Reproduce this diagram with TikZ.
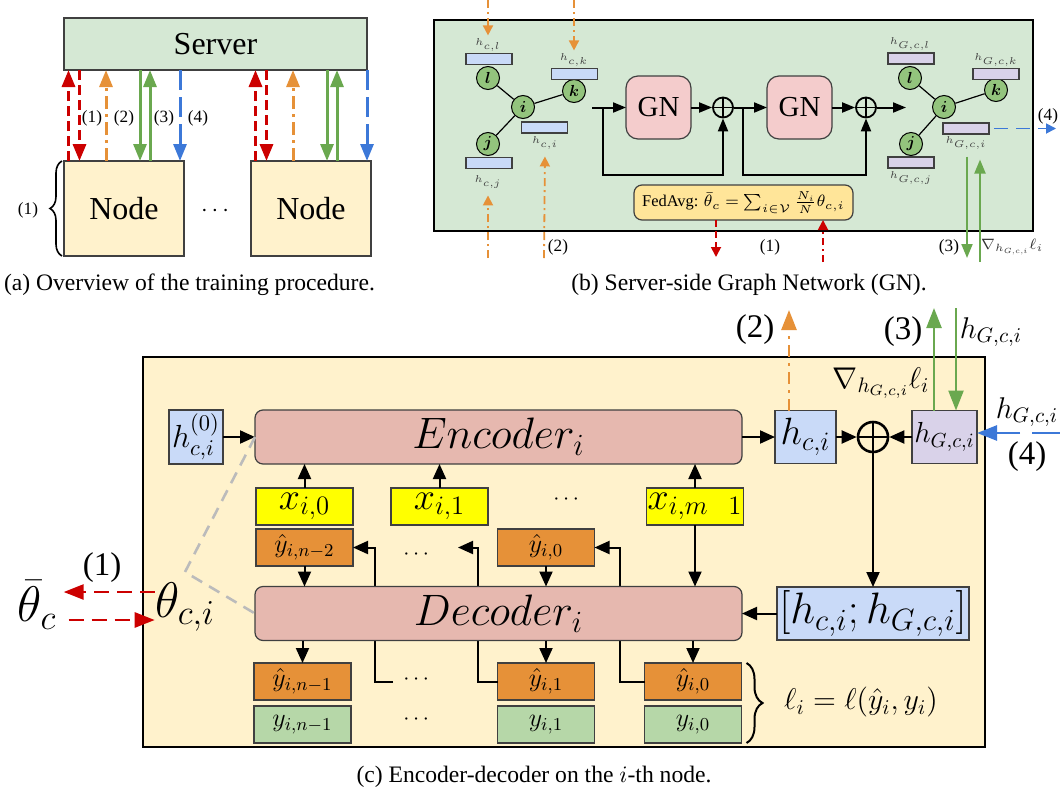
\RequirePackage{fix-cm}
\documentclass[tikz,border=0pt]{standalone}
\usepackage{amsmath,amssymb}
\usepackage[no-math]{fontspec}
\setmainfont{Liberation Serif}
\usetikzlibrary{arrows.meta,calc,decorations.pathreplacing}

\definecolor{srvgreen}{HTML}{D5E8D4}
\definecolor{nodeyel}{HTML}{FFF2CC}
\definecolor{cred}{HTML}{CC0000}
\definecolor{corange}{HTML}{E69138}
\definecolor{cgreen}{HTML}{6AA84F}
\definecolor{cblue}{HTML}{3C78D8}
\definecolor{hblue}{HTML}{C9DAF8}
\definecolor{hpurple}{HTML}{D9D2E9}
\definecolor{gnpink}{HTML}{F4CCCC}
\definecolor{fedyel}{HTML}{FFE599}
\definecolor{encpink}{HTML}{E6B8AF}
\definecolor{xyellow}{HTML}{FFFF00}
\definecolor{yhorange}{HTML}{E69138}
\definecolor{ygreen}{HTML}{B6D7A8}
\definecolor{circgreen}{HTML}{93C47D}
\definecolor{edgegray}{HTML}{404040}
\definecolor{dashgray}{HTML}{BBBBBB}

\newcommand\fsz[1]{\fontsize{#1}{#1}\selectfont}

\tikzset{
  px/.style 2 args={minimum width=#1*0.5pt, minimum height=#2*0.5pt},
  plainbox/.style={draw=edgegray, line width=0.6pt, inner sep=0pt, outer sep=0pt},
  lblA/.style={inner sep=0.5pt, font=\fsz{8.6}},
  lblC/.style={inner sep=0.5pt, font=\fsz{16.5}},
  caption/.style={inner sep=0pt, font=\fsz{11.8}},
  % panel (a)
  tipA/.style={-{Triangle[length=8.5pt,width=6.5pt]}},
  redA/.style={tipA, draw=cred, line width=1.6pt, dash pattern=on 5pt off 2.5pt},
  orA/.style={tipA, draw=corange, line width=1.5pt, dash pattern=on 6.5pt off 2.5pt on 1.5pt off 2.5pt},
  grA/.style={tipA, draw=cgreen, line width=1.5pt},
  blA/.style={tipA, draw=cblue, line width=1.5pt, dash pattern=on 10pt off 3.5pt},
  % panel (b)
  tipB/.style={-{Triangle[length=5pt,width=5pt]}},
  blkB/.style={-{Triangle[length=6.5pt,width=5pt]}, line width=1pt},
  orB/.style={tipB, draw=corange, line width=0.9pt, dash pattern=on 4pt off 2pt on 1pt off 2pt},
  redB/.style={tipB, draw=cred, line width=0.9pt, dash pattern=on 3.5pt off 2pt},
  redBdd/.style={tipB, draw=cred, line width=0.9pt, dash pattern=on 3.5pt off 2pt on 1pt off 2pt},
  grB/.style={-{Triangle[length=7pt,width=5.5pt]}, draw=cgreen, line width=1pt},
  blB/.style={tipB, draw=cblue, line width=0.9pt, dash pattern=on 7pt off 4pt},
  gcirc/.style={circle, draw=black, line width=0.5pt, fill=circgreen, minimum size=11.5pt, inner sep=0pt, font=\fsz{8}},
  gedge/.style={line width=0.6pt},
  hbar/.style={plainbox, px={46}{11}},
  tinyl/.style={inner sep=0.5pt, font=\fsz{5}, text=black!75},
  gnbox/.style={plainbox, fill=gnpink, rounded corners=6pt, px={65}{63}, font=\fsz{14.5}},
  oplB/.style={circle, draw=black, line width=0.9pt, inner sep=0pt, minimum size=10pt,
    path picture={\draw[line width=0.9pt] (path picture bounding box.north) -- (path picture bounding box.south)
      (path picture bounding box.west) -- (path picture bounding box.east);}},
  % panel (c)
  tipC/.style={-{Triangle[length=7.5pt,width=6.5pt]}},
  blkC/.style={tipC, line width=1pt},
  bigtip/.style={-{Triangle[length=10pt,width=7.5pt]}},
  redC/.style={bigtip, draw=cred, line width=1.3pt, dash pattern=on 7.5pt off 4pt},
  orC/.style={bigtip, draw=corange, line width=1.3pt, dash pattern=on 6pt off 3pt on 1.5pt off 3pt},
  grC/.style={bigtip, draw=cgreen, line width=1.2pt},
  blC/.style={bigtip, draw=cblue, line width=1.3pt, dash pattern=on 14pt off 6pt},
  oplC/.style={circle, draw=black, line width=1.3pt, inner sep=0pt, minimum size=15pt,
    path picture={\draw[line width=1.3pt] (path picture bounding box.north) -- (path picture bounding box.south)
      (path picture bounding box.west) -- (path picture bounding box.east);}},
  codebox/.style={plainbox, fill=encpink, rounded corners=4pt, px={487}{54}, font=\fsz{22}},
  xbox/.style={plainbox, fill=xyellow, px={97}{37}, font=\fsz{19}},
  yhbox/.style={plainbox, fill=yhorange, px={97}{37}, font=\fsz{13}},
  ybox/.style={plainbox, fill=ygreen, px={97}{37}, font=\fsz{13}},
  dotsn/.style={inner sep=0pt, font=\fsz{11}},
  graydash/.style={draw=dashgray, line width=1.3pt, dash pattern=on 6pt off 4pt},
  bracedeco/.style={decorate, decoration={brace, amplitude=#1}},
}

\begin{document}
\begin{tikzpicture}[x=0.5pt, y=-0.5pt]
\useasboundingbox (0,0) rectangle (1060,793);

% ---------------- (a) training overview ----------------
\node[plainbox, fill=srvgreen, px={303}{52}, font=\fsz{16}] (srv) at (215.5,44) {Server};
\node[plainbox, fill=nodeyel, px={120}{95}, font=\fsz{16}] (n1) at (124,208.5) {Node};
\node[plainbox, fill=nodeyel, px={120}{95}, font=\fsz{16}] (n2) at (311,208.5) {Node};
\node[inner sep=0pt, font=\fsz{12}] (adots) at (217,211) {$\cdots$};

\foreach \nd in {n1,n2}{
  \path (\nd.north west) ++(4.5,0) coordinate (\nd-a)
        (\nd.north west) ++(15.5,0) coordinate (\nd-b)
        (\nd.north west) ++(42,0) coordinate (\nd-c)
        (\nd.north west) ++(76,0) coordinate (\nd-d)
        (\nd.north west) ++(86,0) coordinate (\nd-e)
        (\nd.north west) ++(116,0) coordinate (\nd-f);
  \draw[redA] (\nd-a) -- (\nd-a |- srv.south);
  \draw[redA] (\nd-b |- srv.south) -- (\nd-b);
  \draw[orA] (\nd-c) -- (\nd-c |- srv.south);
  \draw[grA] (\nd-d |- srv.south) -- (\nd-d);
  \draw[grA] (\nd-e) -- (\nd-e |- srv.south);
  \draw[blA] (\nd-f |- srv.south) -- (\nd-f);
}
\node[lblA] (la1) at (92,118) {(1)};
\node[lblA] (la2) at (124,118) {(2)};
\node[lblA] (la3) at (164,118) {(3)};
\node[lblA] (la4) at (198,118) {(4)};

\path (n1.south west) ++(-2,0) coordinate (abrb) (n1.north west) ++(-2,0) coordinate (abrt);
\draw[bracedeco=6pt, line width=0.8pt] (abrb) -- (abrt);
\node[lblA] (labr) at (28,210) {(1)};

\node[caption] (capa) at (189.5,285) {(a) Overview of the training procedure.};

% ---------------- (b) server-side graph network ----------------
\node[plainbox, draw=black, fill=srvgreen, px={599}{211}] (gbg) at (733.5,125.5) {};

% input graph with node embeddings
\node[gcirc] (Ll) at (488,78) {$\boldsymbol{l}$};
\node[gcirc] (Li) at (523,107) {$\boldsymbol{i}$};
\node[gcirc] (Lk) at (574,91) {$\boldsymbol{k}$};
\node[gcirc] (Lj) at (488,144) {$\boldsymbol{j}$};
\draw[gedge] (Li) -- (Ll) (Li) -- (Lk) (Li) -- (Lj);
\node[hbar, fill=hblue] (Lbl) at (489,59) {};
\node[hbar, fill=hblue] (Lbk) at (574.5,74) {};
\node[hbar, fill=hblue] (Lbi) at (544.5,127.5) {};
\node[hbar, fill=hblue] (Lbj) at (489,163) {};
\node[tinyl] (Lhl) at (488,45) {$h_{c,l}$};
\node[tinyl] (Lhk) at (574,60) {$h_{c,k}$};
\node[tinyl] (Lhi) at (545,143) {$h_{c,i}$};
\node[tinyl] (Lhj) at (488,182) {$h_{c,j}$};

% output graph with updated embeddings
\node[gcirc] (Rl) at (910,78) {$\boldsymbol{l}$};
\node[gcirc] (Ri) at (944,107) {$\boldsymbol{i}$};
\node[gcirc] (Rk) at (996,90) {$\boldsymbol{k}$};
\node[gcirc] (Rj) at (911,144) {$\boldsymbol{j}$};
\draw[gedge] (Ri) -- (Rl) (Ri) -- (Rk) (Ri) -- (Rj);
\node[hbar, fill=hpurple] (Rbl) at (911,58.5) {};
\node[hbar, fill=hpurple] (Rbk) at (996,74) {};
\node[hbar, fill=hpurple] (Rbi) at (966,128.5) {};
\node[hbar, fill=hpurple] (Rbj) at (911,162.5) {};
\node[tinyl] (Rhl) at (910,44) {$h_{G,c,l}$};
\node[tinyl] (Rhk) at (996,60) {$h_{G,c,k}$};
\node[tinyl] (Rhi) at (966,143) {$h_{G,c,i}$};
\node[tinyl] (Rhj) at (911,178) {$h_{G,c,j}$};

% two residual GN blocks
\node[gnbox] (GN1) at (658.5,107.5) {GN};
\node[gnbox] (GN2) at (799.5,107.5) {GN};
\node[oplB] (op1) at (723,107.5) {};
\node[oplB] (op2) at (866,107.5) {};
\coordinate (gin) at (592,107.5);
\coordinate (gl1) at (603,107.5);
\coordinate (gl2) at (743,107.5);
\coordinate (gout) at (906,107.5);
\draw[blkB] (gin) -- (GN1);
\draw[blkB] (GN1) -- (op1);
\draw[blkB] (gl1) -- ++(0,67) -| (op1.south);
\draw[blkB] (op1) -- (GN2);
\draw[blkB] (gl2) -- ++(0,67) -| (op2.south);
\draw[blkB] (GN2) -- (op2);
\draw[blkB] (op2) -- (gout);

\node[plainbox, fill=fedyel, rounded corners=4pt, px={219}{35}, font=\fsz{8.2}] (fed) at (743.5,202.5)
  {FedAvg: $\bar{\theta}_c=\sum_{i\in\mathcal{V}}\frac{N_i}{N}\theta_{c,i}$};

% embeddings arriving from / leaving to the nodes
\coordinate (ot1) at (488,0);
\coordinate (ot2) at (574,0);
\coordinate (ob1) at (488,258);
\coordinate (ob2) at (544,258);
\draw[orB, shorten >=1pt] (ot1) -- (Lhl.north);
\draw[orB, shorten >=1pt] (ot2) -- (Lhk.north);
\draw[orB, shorten >=3pt] (ob1) -- (Lhj.south);
\draw[orB, shorten >=3pt] (ob2) -- (Lhi.south);
\node[lblA] (lb2) at (558,247) {(2)};

\coordinate (rd) at (716,257);
\coordinate (ru) at (823,262);
\draw[redB] (fed.south -| rd) -- (rd);
\draw[redBdd] (ru) -- (fed.south -| ru);
\node[lblA] (lb1) at (770,247) {(1)};

\coordinate (gd) at (967,258);
\coordinate (gu) at (980,262);
\draw[grB, shorten <=3pt] (Rhi.south -| gd) -- (gd);
\draw[grB, shorten >=4.5pt] (gu) -- (Rhi.south -| gu);
\node[lblA] (lb3) at (949,247) {(3)};
\node[inner sep=0pt, font=\fsz{7.5}, text=black!80] (lbnab) at (1012,247) {$\nabla_{h_{G,c,i}}\ell_i$};

\coordinate (bt) at (1056,128.5);
\draw[blB, shorten <=2.5pt] (Rbi.east) -- (bt);
\node[lblA] (lb4) at (1048,116) {(4)};

\node[caption] (capb) at (749,285) {(b) Server-side Graph Network (GN).};

% ---------------- (c) encoder-decoder on a node ----------------
\node[plainbox, draw=black, fill=nodeyel, px={842}{390}] (cbg) at (564,552) {};

\node[plainbox, fill=hblue, px={54}{54}, font=\fsz{16}] (h0) at (196,437) {$h^{(0)}_{c,i}$};
\node[codebox] (enc) at (498.5,437) {$Encoder_i$};
\node[plainbox, fill=hblue, px={61}{53}, font=\fsz{19}] (hci) at (805.5,437) {$h_{c,i}$};
\node[oplC] (op) at (873,437) {};
\node[plainbox, fill=hpurple, px={65}{53}, font=\fsz{14.5}] (hg) at (944.5,437) {$h_{G,c,i}$};
\node[plainbox, fill=hblue, px={192}{53}, font=\fsz{22}] (cat) at (873,613.5) {$[h_{c,i};h_{G,c,i}]$};

\node[xbox] (x0) at (304.5,506.5) {$x_{i,0}$};
\node[xbox] (x1) at (439.5,506.5) {$x_{i,1}$};
\node[xbox] (xm) at (695,506.5) {$x_{i,m\phantom{-}1}$};
\node[dotsn] (dx) at (568,500) {$\cdots$};

\node[yhbox] (yhn2) at (304.5,547.5) {$\hat{y}_{i,n-2}$};
\node[yhbox] (yh0t) at (546,547.5) {$\hat{y}_{i,0}$};
\node[dotsn] (dy) at (418,555) {$\cdots$};

\node[yhbox] (yhn1) at (302.5,681.5) {$\hat{y}_{i,n-1}$};
\node[ybox] (yn1) at (302.5,724.5) {$y_{i,n-1}$};
\node[yhbox] (yh1) at (546,681.5) {$\hat{y}_{i,1}$};
\node[ybox] (y1) at (546,724.5) {$y_{i,1}$};
\node[yhbox] (yh0) at (693,681.5) {$\hat{y}_{i,0}$};
\node[ybox] (y0) at (693,724.5) {$y_{i,0}$};
\node[dotsn] (db1) at (418,680) {$\cdots$};
\node[dotsn] (db2) at (418,720) {$\cdots$};

% autoregressive feedback (runs behind the decoder)
\coordinate (fbA) at (458,547.5);
\coordinate (fbB) at (393,681.5);
\draw[blkC] (yh0.west) -- ++(-25,0) |- (yh0t.east);
\draw[blkC] (yh1.west) -- ++(-20,0) |- (fbA);
\draw[blkC] (fbB) -- ++(-18,0) |- (yhn2.east);

\node[codebox] (dec) at (498.5,613.5) {$Decoder_i$};

\draw[blkC] (h0) -- (enc);
\draw[blkC] (enc) -- (hci);
\draw[blkC] (hci) -- (op);
\draw[blkC] (hg) -- (op);
\draw[blkC] (op) -- (cat);
\draw[blkC] (cat) -- (dec);
\draw[blkC] (x0.north) -- (x0.north |- enc.south);
\draw[blkC] (x1.north) -- (x1.north |- enc.south);
\draw[blkC] (xm.north) -- (xm.north |- enc.south);
\draw[blkC] (xm.south) -- (xm.south |- dec.north);
\draw[blkC] (yhn2.south) -- (yhn2.south |- dec.north);
\draw[blkC] (yh0t.south) -- (yh0t.south |- dec.north);
\draw[blkC] (dec.south -| yhn1) -- (yhn1.north);
\draw[blkC] (dec.south -| yh1) -- (yh1.north);
\draw[blkC] (dec.south -| yh0) -- (yh0.north);

% shared parameters of encoder and decoder
\coordinate (gc) at (185,572);
\draw[graydash] (enc.west) -- (gc) -- (dec.west);

\node[inner sep=0pt, font=\fsz{25}] (thci) at (185,607) {$\theta_{c,i}$};
\node[inner sep=0pt, font=\fsz{25}] (thb) at (37,605) {$\bar{\theta}_c$};
\path ($(thci.west)+(0,-15)$) coordinate (ra1) ($(thci.west)+(0,13)$) coordinate (rb1);
\draw[redC, shorten >=3.5pt] (ra1) -- (ra1 -| thb.east);
\draw[redC, shorten <=6pt] (rb1 -| thb.east) -- (rb1);
\node[lblC] (c1) at (102,568) {(1)};

% exchanges with the server
\coordinate (o2) at (789,310);
\draw[orC] (hci.north -| o2) -- (o2);
\node[lblC] (c2) at (755,330) {(2)};

\coordinate (g3u) at (934,308);
\coordinate (g3d) at (956,308);
\draw[grC] (hg.north -| g3u) -- (g3u);
\draw[grC] (g3d) -- (hg.north -| g3d);
\node[lblC] (c3) at (903,332) {(3)};
\node[inner sep=0pt, font=\fsz{15}] (chg) at (991,332) {$h_{G,c,i}$};
\node[inner sep=0pt, font=\fsz{15}] (cnab) at (881,383) {$\nabla_{h_{G,c,i}}\ell_i$};

\coordinate (b4) at (1060,433);
\draw[blC] (b4) -- (b4 -| hg.east);
\node[inner sep=0pt, font=\fsz{15}] (chg4) at (1027,412) {$h_{G,c,i}$};
\node[lblC] (c4) at (1027,457) {(4)};

% loss brace
\path (yh0.north east) ++(5,0) coordinate (brt) (y0.south east) ++(5,0) coordinate (brb);
\draw[bracedeco=8pt, line width=1pt] (brt) -- (brb);
\node[inner sep=0pt, font=\fsz{15}] (loss) at (861,702) {$\ell_i=\ell(\hat{y}_i,y_i)$};

\node[caption] (capc) at (534,777) {(c) Encoder-decoder on the $i$-th node.};
\end{tikzpicture}
\end{document}
